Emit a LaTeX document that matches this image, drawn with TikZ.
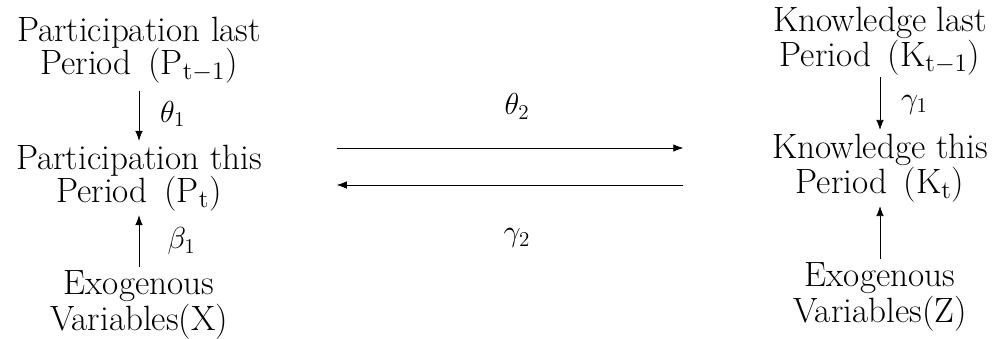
\documentclass[tikz,border=0pt]{standalone}
\usepackage{amsmath}
\usetikzlibrary{arrows.meta}

\begin{document}
\begin{tikzpicture}[
    x=0.02cm, y=-0.02cm,
    font=\fontsize{20}{19}\selectfont,
    var/.style={
      align=center,
      inner sep=2pt
    },
    coef/.style={
      font=\fontsize{18}{18}\selectfont
    },
    arrow/.style={
      -{Latex[length=2mm, width=1.5mm]},
      draw=black
    }
  ]
    \useasboundingbox (0,0) rectangle (999,338);

    % Participation column
    \node[var] (plast) at (139,50) {Participation last\\Period\, (P$_{\mathrm{t}-1}$)};
    \node[var] (pthis) at (139,178) {Participation this\\Period\, (P$_{\mathrm{t}}$)};
    \node[var] (xvar) at (139,305) {Exogenous\\Variables(X)};

    % Knowledge column
    \node[var] (klast) at (880,41) {Knowledge last\\Period\, (K$_{\mathrm{t}-1}$)};
    \node[var] (kthis) at (880,168) {Knowledge this\\Period\, (K$_{\mathrm{t}}$)};
    \node[var] (zvar) at (880,297) {Exogenous\\Variables(Z)};

    % Lagged effects
    \draw[arrow, shorten <=2pt] (plast) -- node[coef, right=0.3cm] {$\theta_1$} (pthis);
    \draw[arrow, shorten <=-1pt] (klast) -- node[coef, right=0.3cm] {$\gamma_1$} (kthis);

    % Exogenous effects
    \draw[arrow] (xvar) -- node[coef, right=0.45cm] {$\beta_1$} (pthis);
    \draw[arrow] (zvar) -- (kthis);

    % Cross effects between participation and knowledge
    \draw[arrow, shorten <=1.42cm, shorten >=1.7cm]
      ([yshift=0.6cm]pthis.east) -- node[coef, above=0.45cm] {$\theta_2$} ([yshift=0.6cm]pthis.east -| kthis.west);
    \draw[arrow, shorten <=1.7cm, shorten >=1.42cm]
      ([yshift=-0.14cm]pthis.east -| kthis.west) -- node[coef, below=0.75cm] {$\gamma_2$} ([yshift=-0.14cm]pthis.east);

  \end{tikzpicture}
\end{document}
